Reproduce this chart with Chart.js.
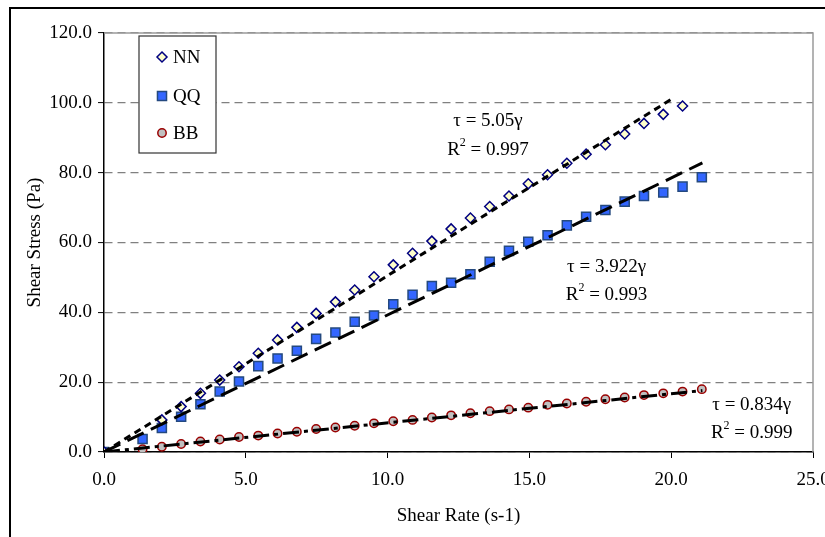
<!DOCTYPE html>
<html>
<head>
<meta charset="utf-8">
<script src="https://cdn.jsdelivr.net/npm/chart.js@4/dist/chart.umd.min.js"></script>
<style>
  html, body { margin: 0; padding: 0; background: #fff; }
  #wrap { width: 825px; height: 537px; position: relative; }
</style>
</head>
<body>
<div id="wrap"><canvas id="chart"></canvas></div>
<script>
// shear rate (s-1), shared by the three samples
const shearRate = [0, 1.36, 2.04, 2.72, 3.40, 4.08, 4.76, 5.44, 6.12, 6.80, 7.48, 8.16, 8.84, 9.52, 10.20,
  10.88, 11.56, 12.24, 12.92, 13.60, 14.28, 14.96, 15.64, 16.32, 17.00, 17.68, 18.36, 19.04, 19.72, 20.40, 21.08]

// shear stress (Pa)
const stressNN = [0, null, 9.2, 13.0, 16.8, 20.6, 24.4, 28.3, 32.1, 35.7, 39.7, 43.0, 46.4, 50.2, 53.6,
  56.9, 60.4, 63.9, 67.0, 70.3, 73.3, 76.8, 79.4, 82.7, 85.3, 88.0, 91.1, 94.1, 96.7, 99.1, null]
const stressQQ = [0, 3.7, 6.9, 10.1, 13.7, 17.3, 20.2, 24.6, 26.8, 29.0, 32.4, 34.2, 37.3, 39.1, 42.3,
  45.0, 47.5, 48.5, 50.9, 54.5, 57.6, 60.2, 62.1, 64.9, 67.4, 69.3, 71.7, 73.3, 74.3, 76.0, 78.7]
const stressBB = [0, 0.8, 1.5, 2.3, 3.0, 3.6, 4.3, 4.7, 5.3, 5.8, 6.6, 7.0, 7.5, 8.2, 8.8,
  9.2, 9.9, 10.5, 11.1, 11.7, 12.2, 12.7, 13.5, 13.9, 14.4, 15.1, 15.6, 16.3, 16.8, 17.3, 18.0]

// trend line end points
const fitNNx = [0, 20.1], fitNNy = [0, 101.5]
const fitQQx = [0, 21.1], fitQQy = [0, 82.8]
const fitBBx = [0, 21.1], fitBBy = [0, 17.6]

const yTicks = [0, 20, 40, 60, 80, 100, 120]
const xTicks = [0, 5, 10, 15, 20, 25]

// fit equations shown next to the lines (data coords)
const fitLabels = [
  { tau: "τ = 5.05γ", r2: "0.997", x: 13.54, y1: 94.8, y2: 86.5 },
  { tau: "τ = 3.922γ", r2: "0.993", x: 17.72, y1: 53.0, y2: 45.0 },
  { tau: "τ = 0.834γ", r2: "0.999", x: 22.84, y1: 13.5, y2: 5.4 }
]

const FONT = "'Liberation Serif', 'Times New Roman', serif"

const pts = (xs, ys) => xs.map((x, i) => ({ x: x, y: ys[i] }))

const series = [
  { label: "NN", data: stressNN, style: "rectRot", radius: 5, fill: "#FFFFCC", stroke: "#000080" },
  { label: "QQ", data: stressQQ, style: "rect", radius: 6.4, fill: "#3366FF", stroke: "#24497F" },
  { label: "BB", data: stressBB, style: "circle", radius: 4.2, fill: "#C0C0C0", stroke: "#990000" }
]

const scatterSets = series.map(s => ({
  type: "scatter",
  label: s.label,
  data: pts(shearRate, s.data),
  pointStyle: s.style,
  pointRadius: s.radius,
  pointBackgroundColor: s.fill,
  pointBorderColor: s.stroke,
  pointBorderWidth: 1.5,
  order: 2
}))

const fitSet = (xs, ys, dash) => ({
  type: "line",
  label: "fit",
  data: pts(xs, ys),
  borderColor: "#000",
  borderWidth: 3,
  borderDash: dash,
  pointRadius: 0,
  fill: false,
  order: 1
})

const fitSets = [
  fitSet(fitNNx, fitNNy, [7, 5]),
  fitSet(fitQQx, fitQQy, [18, 8]),
  fitSet(fitBBx, fitBBy, [16, 5, 4, 5])
]

function drawMarker(ctx, s, x, y) {
  ctx.save()
  ctx.fillStyle = s.fill
  ctx.strokeStyle = s.stroke
  ctx.lineWidth = 1.5
  ctx.beginPath()
  if (s.style === "rectRot") {
    const r = s.radius
    ctx.moveTo(x, y - r); ctx.lineTo(x + r, y); ctx.lineTo(x, y + r); ctx.lineTo(x - r, y); ctx.closePath()
  } else if (s.style === "rect") {
    const h = s.radius * Math.SQRT1_2
    ctx.rect(x - h, y - h, 2 * h, 2 * h)
  } else {
    ctx.arc(x, y, s.radius, 0, Math.PI * 2)
  }
  ctx.fill()
  ctx.stroke()
  ctx.restore()
}

const framePlugin = {
  id: "frame",
  beforeDraw(chart) {
    const ctx = chart.ctx
    ctx.save()
    ctx.fillStyle = "#fff"
    ctx.fillRect(0, 0, chart.width, chart.height)
    ctx.strokeStyle = "#000"
    ctx.lineWidth = 2
    ctx.beginPath()
    ctx.moveTo(10, chart.height + 2)
    ctx.lineTo(10, 8)
    ctx.lineTo(chart.width + 2, 8)
    ctx.stroke()
    ctx.restore()
  },
  beforeDatasetsDraw(chart) {
    const { ctx, chartArea: a } = chart
    ctx.save()
    ctx.strokeStyle = "#9a9a9a"
    ctx.lineWidth = 1.5
    ctx.beginPath()
    ctx.moveTo(a.left, a.top)
    ctx.lineTo(a.right, a.top)
    ctx.lineTo(a.right, a.bottom)
    ctx.stroke()
    ctx.restore()
  },
  afterDatasetsDraw(chart) {
    const { ctx, scales } = chart
    ctx.save()
    // fit equations
    ctx.fillStyle = "#000"
    ctx.textBaseline = "middle"
    fitLabels.forEach(l => {
      const cx = scales.x.getPixelForValue(l.x)
      ctx.font = "19px " + FONT
      ctx.textAlign = "center"
      ctx.fillText(l.tau, cx, scales.y.getPixelForValue(l.y1))
      const rest = " = " + l.r2
      ctx.font = "19px " + FONT
      const wR = ctx.measureText("R").width
      const wRest = ctx.measureText(rest).width
      ctx.font = "12px " + FONT
      const w2 = ctx.measureText("2").width
      const total = wR + w2 + wRest
      let x = cx - total / 2
      const y = scales.y.getPixelForValue(l.y2)
      ctx.textAlign = "left"
      ctx.font = "19px " + FONT
      ctx.fillText("R", x, y)
      ctx.font = "12px " + FONT
      ctx.fillText("2", x + wR, y - 7)
      ctx.font = "19px " + FONT
      ctx.fillText(rest, x + wR + w2, y)
    })
    // legend box
    const bx = 139, by = 36, bw = 77, bh = 117
    ctx.fillStyle = "#fff"
    ctx.fillRect(bx, by, bw, bh)
    ctx.strokeStyle = "#333"
    ctx.lineWidth = 1.2
    ctx.strokeRect(bx, by, bw, bh)
    const rows = [57, 96, 133]
    series.forEach((s, i) => {
      drawMarker(ctx, s, 162, rows[i])
      ctx.fillStyle = "#000"
      ctx.font = "19px " + FONT
      ctx.textAlign = "left"
      ctx.textBaseline = "middle"
      ctx.fillText(s.label, 173, rows[i] + 1)
    })
    ctx.restore()
  }
}

new Chart(document.getElementById("chart"), {
  data: { datasets: fitSets.concat(scatterSets) },
  options: {
    responsive: true,
    maintainAspectRatio: false,
    animation: false,
    layout: { padding: { left: 0, top: 33, right: 12, bottom: 0 } },
    plugins: { legend: { display: false }, tooltip: { enabled: false } },
    scales: {
      x: {
        type: "linear",
        min: 0,
        max: 25,
        afterBuildTicks: s => { s.ticks = xTicks.map(v => ({ value: v })) },
        afterFit: s => { s.height = 85; s.paddingLeft = 0; s.paddingRight = 0 },
        ticks: { callback: v => v.toFixed(1), color: "#000", font: { family: FONT, size: 19 }, padding: 11, maxRotation: 0 },
        grid: { drawOnChartArea: false, color: "#000", tickLength: 6, tickColor: "#000" },
        border: { color: "#000", width: 1.5 },
        title: { display: true, text: "Shear Rate (s-1)", color: "#000", font: { family: FONT, size: 19 }, padding: { top: 0, bottom: 10 } }
      },
      y: {
        type: "linear",
        min: 0,
        max: 120,
        afterBuildTicks: s => { s.ticks = yTicks.map(v => ({ value: v })) },
        afterFit: s => { s.width = 104; s.paddingTop = 0; s.paddingBottom = 0 },
        ticks: { callback: v => v.toFixed(1), color: "#000", font: { family: FONT, size: 19 }, padding: 6 },
        grid: { color: "#808080", lineWidth: 1.2, tickLength: 6, tickColor: "#000", tickWidth: 1, tickBorderDash: [] },
        border: { color: "#000", width: 1.5, dash: [8, 5] },
        title: { display: true, text: "Shear Stress (Pa)", color: "#000", font: { family: FONT, size: 19 }, padding: { top: 24, bottom: 0 } }
      }
    }
  },
  plugins: [framePlugin]
})
</script>
</body>
</html>
